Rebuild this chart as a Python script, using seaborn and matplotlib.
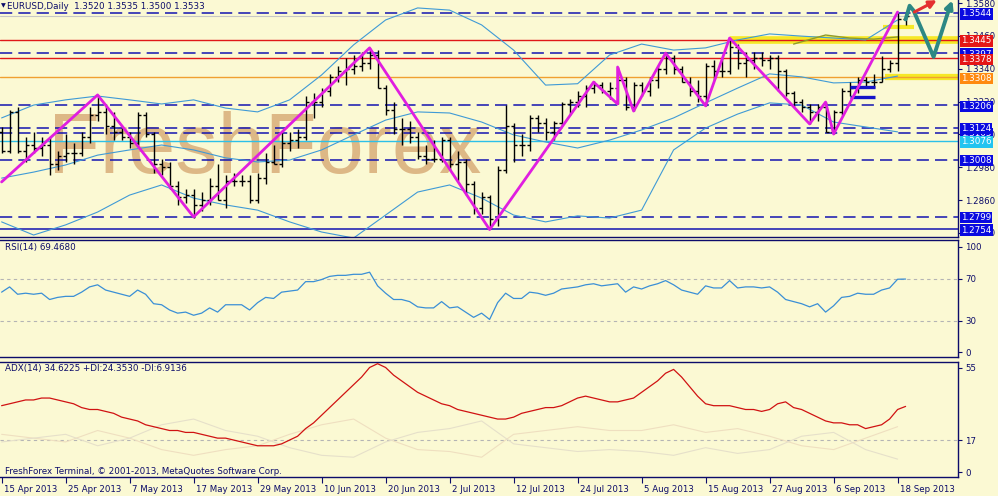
import matplotlib
matplotlib.use("Agg")
import matplotlib.pyplot as plt
import matplotlib.transforms as mtransforms
import seaborn as sns
import pandas as pd
import numpy as np

# ---------------- values ----------------
# daily OHLC, 15 Apr 2013 .. 19 Sep 2013 (one bar per weekday)
opens = [1.3110, 1.3040, 1.3180, 1.3040, 1.3060, 1.3050, 1.3060, 1.2990, 1.3020, 1.3030,
         1.3030, 1.3090, 1.3170, 1.3180, 1.3130, 1.3110, 1.3090, 1.3070, 1.3170, 1.3100,
         1.2990, 1.2980, 1.2910, 1.2870, 1.2880, 1.2840, 1.2860, 1.2910, 1.2860, 1.2930,
         1.2930, 1.2930, 1.2860, 1.2940, 1.3000, 1.2990, 1.3070, 1.3080, 1.3090, 1.3220,
         1.3220, 1.3260, 1.3310, 1.3330, 1.3340, 1.3350, 1.3360, 1.3390, 1.3270, 1.3190,
         1.3120, 1.3120, 1.3090, 1.3020, 1.3010, 1.3010, 1.3080, 1.2990, 1.3000, 1.2920,
         1.2830, 1.2870, 1.2790, 1.2970, 1.3130, 1.3060, 1.3060, 1.3160, 1.3140, 1.3110,
         1.3140, 1.3210, 1.3220, 1.3240, 1.3270, 1.3280, 1.3260, 1.3270, 1.3300, 1.3200,
         1.3280, 1.3260, 1.3300, 1.3340, 1.3380, 1.3340, 1.3290, 1.3260, 1.3240, 1.3350,
         1.3330, 1.3330, 1.3420, 1.3360, 1.3370, 1.3380, 1.3370, 1.3380, 1.3330, 1.3250,
         1.3220, 1.3200, 1.3180, 1.3200, 1.3110, 1.3180, 1.3260, 1.3270, 1.3300, 1.3290,
         1.3290, 1.3340, 1.3360, 1.3520]
highs = [1.3125, 1.3190, 1.3200, 1.3090, 1.3110, 1.3090, 1.3090, 1.3040, 1.3100, 1.3070,
         1.3110, 1.3200, 1.3243, 1.3210, 1.3180, 1.3130, 1.3110, 1.3180, 1.3180, 1.3110,
         1.3010, 1.3000, 1.2930, 1.2900, 1.2900, 1.2890, 1.2940, 1.2990, 1.2950, 1.2960,
         1.2950, 1.2950, 1.2960, 1.3030, 1.3060, 1.3110, 1.3110, 1.3120, 1.3240, 1.3250,
         1.3270, 1.3320, 1.3350, 1.3380, 1.3390, 1.3400, 1.3416, 1.3410, 1.3280, 1.3220,
         1.3160, 1.3150, 1.3110, 1.3060, 1.3080, 1.3090, 1.3090, 1.3040, 1.3010, 1.2930,
         1.2890, 1.2880, 1.2985, 1.3208, 1.3140, 1.3100, 1.3170, 1.3170, 1.3160, 1.3150,
         1.3220, 1.3230, 1.3260, 1.3280, 1.3296, 1.3290, 1.3290, 1.3346, 1.3310, 1.3290,
         1.3290, 1.3310, 1.3350, 1.3400, 1.3390, 1.3350, 1.3310, 1.3300, 1.3360, 1.3370,
         1.3380, 1.3452, 1.3430, 1.3400, 1.3400, 1.3400, 1.3390, 1.3390, 1.3340, 1.3260,
         1.3230, 1.3210, 1.3210, 1.3218, 1.3190, 1.3270, 1.3290, 1.3310, 1.3310, 1.3320,
         1.3385, 1.3372, 1.3544, 1.3535]
lows = [1.3030, 1.3030, 1.3030, 1.3000, 1.3030, 1.3020, 1.2950, 1.2970, 1.3000, 1.2990,
        1.3020, 1.3070, 1.3150, 1.3100, 1.3080, 1.3080, 1.3050, 1.3060, 1.3090, 1.2960,
        1.2950, 1.2900, 1.2840, 1.2850, 1.2796, 1.2820, 1.2840, 1.2860, 1.2830, 1.2910,
        1.2910, 1.2850, 1.2850, 1.2920, 1.2990, 1.2980, 1.3040, 1.3050, 1.3080, 1.3160,
        1.3200, 1.3240, 1.3290, 1.3280, 1.3320, 1.3330, 1.3340, 1.3270, 1.3170, 1.3100,
        1.3060, 1.3070, 1.3010, 1.2990, 1.3000, 1.3000, 1.2970, 1.2930, 1.2880, 1.2810,
        1.2810, 1.2755, 1.2765, 1.2960, 1.3000, 1.3020, 1.3040, 1.3110, 1.3080, 1.3080,
        1.3130, 1.3170, 1.3200, 1.3200, 1.3250, 1.3250, 1.3230, 1.3211, 1.3190, 1.3185,
        1.3240, 1.3240, 1.3270, 1.3320, 1.3320, 1.3290, 1.3240, 1.3220, 1.3204, 1.3300,
        1.3310, 1.3320, 1.3340, 1.3310, 1.3340, 1.3350, 1.3340, 1.3260, 1.3240, 1.3200,
        1.3180, 1.3138, 1.3150, 1.3110, 1.3101, 1.3170, 1.3240, 1.3250, 1.3270, 1.3270,
        1.3290, 1.3328, 1.3330, 1.3500]
closes = [1.3040, 1.3180, 1.3040, 1.3060, 1.3050, 1.3060, 1.2990, 1.3020, 1.3030, 1.3030,
          1.3090, 1.3170, 1.3180, 1.3130, 1.3110, 1.3090, 1.3070, 1.3170, 1.3100, 1.2990,
          1.2980, 1.2910, 1.2870, 1.2880, 1.2840, 1.2860, 1.2910, 1.2860, 1.2930, 1.2930,
          1.2930, 1.2860, 1.2940, 1.3000, 1.2990, 1.3070, 1.3080, 1.3090, 1.3220, 1.3220,
          1.3260, 1.3310, 1.3330, 1.3340, 1.3350, 1.3360, 1.3390, 1.3270, 1.3190, 1.3120,
          1.3120, 1.3090, 1.3020, 1.3010, 1.3010, 1.3080, 1.2990, 1.3000, 1.2920, 1.2830,
          1.2870, 1.2790, 1.2970, 1.3130, 1.3060, 1.3060, 1.3160, 1.3140, 1.3110, 1.3140,
          1.3210, 1.3220, 1.3240, 1.3270, 1.3280, 1.3260, 1.3270, 1.3300, 1.3200, 1.3280,
          1.3260, 1.3300, 1.3340, 1.3380, 1.3340, 1.3290, 1.3260, 1.3240, 1.3350, 1.3330,
          1.3330, 1.3420, 1.3360, 1.3370, 1.3380, 1.3370, 1.3380, 1.3330, 1.3250, 1.3220,
          1.3200, 1.3180, 1.3200, 1.3110, 1.3180, 1.3260, 1.3270, 1.3300, 1.3290, 1.3290,
          1.3340, 1.3360, 1.3520, 1.3533]

date_labels = ["15 Apr 2013", "25 Apr 2013", "7 May 2013", "17 May 2013", "29 May 2013",
               "10 Jun 2013", "20 Jun 2013", "2 Jul 2013", "12 Jul 2013", "24 Jul 2013",
               "5 Aug 2013", "15 Aug 2013", "27 Aug 2013", "6 Sep 2013", "18 Sep 2013"]

# bollinger bands, sampled every 4th bar
band_idx = list(range(0, 113, 4))
bb_upper = [1.3160, 1.3207, 1.3226, 1.3240, 1.3226, 1.3211, 1.3226, 1.3196, 1.3182, 1.3226,
            1.3317, 1.3427, 1.3518, 1.3562, 1.3554, 1.3500, 1.3408, 1.3280, 1.3285, 1.3390,
            1.3430, 1.3408, 1.3416, 1.3445, 1.3467, 1.3459, 1.3452, 1.3445, 1.3518]
bb_mid = [1.2940, 1.2962, 1.2988, 1.3024, 1.3043, 1.3061, 1.3043, 1.3014, 1.2999, 1.3006,
          1.3043, 1.3098, 1.3152, 1.3182, 1.3178, 1.3145, 1.3098, 1.3072, 1.3050, 1.3079,
          1.3116, 1.3160, 1.3215, 1.3269, 1.3321, 1.3310, 1.3288, 1.3291, 1.3313]
bb_lower = [1.2780, 1.2732, 1.2769, 1.2816, 1.2878, 1.2915, 1.2867, 1.2842, 1.2823, 1.2780,
            1.2743, 1.2721, 1.2805, 1.2889, 1.2915, 1.2867, 1.2805, 1.2780, 1.2802, 1.2794,
            1.2823, 1.3043, 1.3123, 1.3174, 1.3215, 1.3207, 1.3145, 1.3127, 1.3109]

olive_idx = [99, 103, 106, 109, 112]
olive_price = [1.3430, 1.3463, 1.3452, 1.3448, 1.3456]

zigzag_idx = [0, 12, 24, 46, 61, 74, 77, 77, 79, 83, 88, 91, 101, 103, 104, 112]
zigzag_price = [1.2926, 1.3244, 1.2798, 1.3416, 1.2752, 1.3291, 1.3211, 1.3346, 1.3185,
                1.3397, 1.3204, 1.3452, 1.3138, 1.3218, 1.3101, 1.3547]

# horizontal levels
dashed_levels = [1.3544, 1.3397, 1.3206, 1.3124, 1.3105, 1.3008, 1.2799]
red_levels = [1.3445, 1.3378]
orange_level = 1.3308
cyan_level = 1.3076
navy_level = 1.2754
bid_price = 1.3533

# yellow highlight strokes: price, first bar, last bar, width
yellow_marks = [(1.3445, 91, 119.6, 5.5), (1.3308, 110.4, 119.6, 4.5), (1.3492, 110.2, 114.0, 3.0)]
box_lines = [1.3273, 1.3236]
box_from, box_to = 106, 109.2

# forecast arrows drawn by the analyst
teal_idx = [113.0, 113.5, 114.0, 116.5, 118.4, 118.85]
teal_price = [1.3520, 1.3570, 1.3552, 1.3383, 1.3555, 1.3590]
red_idx = [114.1, 116.9]
red_price = [1.3547, 1.3590]

# right axis boxes
box_prices = [1.3397, 1.3105, 1.3544, 1.3445, 1.3378, 1.3308, 1.3206, 1.3124, 1.3076, 1.3008, 1.2799, 1.2754]
box_kinds = ["b", "b", "b", "r", "r", "o", "b", "b", "c", "b", "b", "b"]
price_ticks = [1.3580, 1.3460, 1.3340, 1.3220, 1.3100, 1.2980, 1.2860, 1.2740]

rsi = [57, 62, 55, 56, 55, 56, 50, 52, 53, 53,
       57, 62, 64, 59, 57, 55, 53, 59, 55, 46,
       45, 40, 37, 38, 35, 37, 42, 38, 45, 45,
       45, 40, 47, 52, 51, 57, 58, 59, 67, 67,
       69, 72, 73, 73, 74, 74, 76, 63, 56, 50,
       50, 48, 43, 42, 42, 48, 42, 43, 38, 33,
       37, 31, 47, 56, 51, 51, 57, 56, 54, 56,
       60, 61, 62, 64, 65, 63, 64, 65, 57, 62,
       60, 63, 65, 68, 64, 59, 57, 55, 63, 61,
       61, 68, 61, 62, 62, 61, 62, 57, 50, 48,
       46, 43, 46, 38, 44, 52, 53, 56, 55, 55,
       59, 61, 69.3, 69.47]
adx = [35, 36, 37, 38, 38, 39, 39, 38, 37, 36,
       34, 33, 33, 32, 31, 29, 28, 27, 25, 24,
       23, 22, 22, 21, 21, 20, 19, 18, 18, 17,
       16, 15, 14, 14, 14, 15, 17, 19, 23, 26,
       30, 34, 38, 42, 46, 50, 55, 57, 55, 51,
       48, 45, 42, 40, 38, 36, 35, 33, 32, 31,
       30, 29, 28, 28, 29, 31, 32, 33, 34, 34,
       35, 37, 39, 40, 39, 38, 37, 37, 38, 39,
       42, 45, 48, 52, 54, 50, 45, 40, 36, 35,
       35, 35, 34, 33, 33, 32, 33, 36, 37, 34,
       33, 31, 29, 27, 26, 26, 25, 25, 23, 24,
       25, 28, 33, 34.62]
plus_di = [20, 18, 16, 22, 18, 12, 9, 12, 14, 20, 25, 28, 18, 12, 11,
           8, 20, 22, 24, 22, 22, 25, 21, 23, 19, 14, 12, 18, 24]
minus_di = [16, 18, 20, 14, 18, 25, 28, 22, 19, 13, 9, 8, 16, 21, 23,
            27, 15, 13, 11, 12, 11, 9, 13, 10, 12, 19, 21, 12, 7]

# ---------------- style ----------------
W, H = 998, 496
BG = "#fbf9d3"
NAVY = "#0c0c6a"
LEVEL_BLUE = "#1414b0"
BOX_COL = {"b": "#0a0ae0", "r": "#e51616", "o": "#ff8a10", "c": "#22c4f0"}

sns.set_style("white", {"axes.facecolor": BG, "figure.facecolor": BG})
plt.rcParams["font.family"] = ["DejaVu Sans"]

fig = plt.figure(figsize=(W / 100, H / 100), dpi=100)


def px_axes(x0, y0, x1, y1):
    return fig.add_axes([x0 / W, 1 - y1 / H, (x1 - x0) / W, (y1 - y0) / H])


ax_p = px_axes(0, 0, 958, 237)
ax_r = px_axes(0, 240, 958, 357)
ax_a = px_axes(0, 362, 958, 477)

xmin, xmax = -0.2, 958 / 8 - 0.2
for ax in (ax_p, ax_r, ax_a):
    ax.set_facecolor(BG)
    ax.set_xlim(xmin, xmax)
    ax.spines["left"].set_visible(False)
    for s in ("right", "bottom", "top"):
        ax.spines[s].set_color(NAVY)
        ax.spines[s].set_linewidth(1.0)
    ax.yaxis.tick_right()
    ax.tick_params(axis="y", colors=NAVY, labelsize=6.2, length=3, width=0.8, pad=2,
                   labelcolor=NAVY, left=False, right=True)
ax_p.spines["top"].set_visible(False)

# ---------------- price panel ----------------
ax_p.set_ylim(1.3591 - 237 / 2736, 1.3591)
x = np.arange(len(closes))

ax_p.text(48 / 958, (237 - 173) / 237, "FreshForex", transform=ax_p.transAxes,
          fontsize=61, family="Liberation Sans", color="#ddb886", zorder=0.5, va="baseline")

for lv in dashed_levels:
    ax_p.axhline(lv, color=LEVEL_BLUE, lw=1.1, ls=(0, (8, 4)), zorder=1)
ax_p.axhline(navy_level, color=LEVEL_BLUE, lw=1.1, zorder=1)
ax_p.axhline(bid_price, color="#c6c6c6", lw=0.8, zorder=1)
ax_p.axhline(cyan_level, color="#2cc0e8", lw=1.0, zorder=1)
for p, a, b, w in yellow_marks:
    ax_p.hlines(p, a, b, color="#f6e826", lw=w, zorder=1.2)
for lv in red_levels:
    ax_p.axhline(lv, color="#e01818", lw=1.0, zorder=1.5)
ax_p.axhline(orange_level, color="#f0a030", lw=1.0, zorder=1.5)

band_df = pd.DataFrame({"i": band_idx, "upper": bb_upper, "mid": bb_mid, "lower": bb_lower})
for col in ("upper", "mid", "lower"):
    sns.lineplot(data=band_df, x="i", y=col, ax=ax_p, color="#3f9ad6", lw=0.8,
                 estimator=None, sort=False, legend=False, zorder=2)
sns.lineplot(x=olive_idx, y=olive_price, ax=ax_p, color="#8f9a2a", lw=1.0,
             estimator=None, sort=False, legend=False, zorder=2.1)

# OHLC bars
ax_p.vlines(x, lows, highs, color="black", lw=1.0, zorder=3)
ax_p.hlines(opens, x - 0.38, x, color="black", lw=1.0, zorder=3)
ax_p.hlines(closes, x, x + 0.38, color="black", lw=1.0, zorder=3)

ax_p.hlines(box_lines, box_from, box_to, color="#1414c8", lw=2.4, zorder=3.5)

sns.lineplot(x=zigzag_idx, y=zigzag_price, ax=ax_p, color="#e01ee0", lw=2.0,
             estimator=None, sort=False, legend=False, zorder=4)

TEAL = "#2d8884"
sns.lineplot(x=teal_idx[:-1], y=teal_price[:-1], ax=ax_p, color=TEAL, lw=2.8,
             estimator=None, sort=False, legend=False, zorder=5)
ax_p.annotate("", xy=(teal_idx[-1], teal_price[-1]), xytext=(teal_idx[-2], teal_price[-2]),
              arrowprops=dict(arrowstyle="-|>", color=TEAL, lw=2.8, mutation_scale=11,
                              shrinkA=0, shrinkB=0), annotation_clip=False, zorder=5)
ax_p.annotate("", xy=(red_idx[1], red_price[1]), xytext=(red_idx[0], red_price[0]),
              arrowprops=dict(arrowstyle="-|>", color="#e43030", lw=2.2, mutation_scale=11,
                              shrinkA=0, shrinkB=0), annotation_clip=False, zorder=5)

ax_p.set_yticks(price_ticks)
ax_p.set_yticklabels([f"{t:.4f}" for t in price_ticks])
ax_p.tick_params(axis="x", bottom=False, labelbottom=False)
ax_p.set_xlabel("")
ax_p.set_ylabel("")

trans = mtransforms.blended_transform_factory(ax_p.transAxes, ax_p.transData)
for p, k in zip(box_prices, box_kinds):
    ax_p.text(1 + 3 / 958, p, f"{p:.4f}", transform=trans, ha="left", va="center_baseline",
              fontsize=6.3, color="white", clip_on=False, zorder=20,
              bbox=dict(boxstyle="square,pad=0.14", fc=BOX_COL[k], ec="none"))

# ---------------- RSI panel ----------------
ax_r.set_ylim(-(357 - 352) / 1.05, 100 + (247 - 240) / 1.05)
for lv in (70, 30):
    ax_r.axhline(lv, color="#b4b4b4", lw=0.8, ls=(0, (3, 3)), zorder=1)
sns.lineplot(x=x, y=rsi, ax=ax_r, color="#3a8fd6", lw=0.9, estimator=None,
             sort=False, legend=False, zorder=3)
ax_r.set_yticks([100, 70, 30, 0])
ax_r.tick_params(axis="x", bottom=False, labelbottom=False)
ax_r.set_xlabel("")
ax_r.set_ylabel("")

# ---------------- ADX panel ----------------
ax_a.set_ylim(-(477 - 472.5) / 1.909, 55 + (367.5 - 362) / 1.909)
ax_a.axhline(17, color="#b4b4b4", lw=0.8, ls=(0, (3, 3)), zorder=1)
sns.lineplot(x=band_idx, y=plus_di, ax=ax_a, color="#efdfc0", lw=0.8, estimator=None,
             sort=False, legend=False, zorder=2)
sns.lineplot(x=band_idx, y=minus_di, ax=ax_a, color="#e6e0ca", lw=0.8, estimator=None,
             sort=False, legend=False, zorder=2)
sns.lineplot(x=x, y=adx, ax=ax_a, color="#d01212", lw=0.9, estimator=None,
             sort=False, legend=False, zorder=3)
ax_a.set_yticks([55, 17, 0])
ax_a.set_xticks(list(range(0, 113, 8)))
ax_a.set_xticklabels(date_labels, ha="left")
ax_a.tick_params(axis="x", colors=NAVY, labelcolor=NAVY, labelsize=6.2, length=4,
                 width=0.8, pad=2, bottom=True)
offset = mtransforms.ScaledTranslation(2 / 100, 0, fig.dpi_scale_trans)
for lbl in ax_a.get_xticklabels():
    lbl.set_transform(lbl.get_transform() + offset)
ax_a.set_xlabel("")
ax_a.set_ylabel("")

# ---------------- texts ----------------
fig.text(1 / W, 1 - 6 / H, "\u25bc", fontsize=4.5, color=NAVY, va="center")
fig.text(7 / W, 1 - 6.5 / H, "EURUSD,Daily  1.3520 1.3535 1.3500 1.3533", fontsize=6.3,
         color=NAVY, va="center")
fig.text(5 / W, 1 - 247 / H, "RSI(14) 69.4680", fontsize=6.3, color=NAVY, va="center")
fig.text(5 / W, 1 - 369 / H, "ADX(14) 34.6225 +DI:24.3530 -DI:6.9136", fontsize=6.3,
         color=NAVY, va="center")
fig.text(5 / W, 1 - 471 / H, "FreshForex Terminal, \u00a9 2001-2013, MetaQuotes Software Corp.",
         fontsize=6.3, color=NAVY, va="center")

fig.savefig("out.png", dpi=100, facecolor=BG)
